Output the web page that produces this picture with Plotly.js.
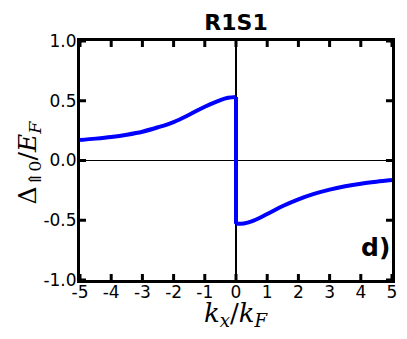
<!DOCTYPE html>
<html>
<head>
<meta charset="utf-8">
<script src="https://cdn.plot.ly/plotly-3.0.1.min.js"></script>
<style>
  html, body { margin: 0; padding: 0; background: #fff; }
  #chart { width: 407px; height: 339px; }
</style>
</head>
<body>
<div id="chart"></div>
<script>
// values
const kxLeft = [-5, -4.5, -4, -3.5, -3, -2.5, -2, -1.5, -1, -0.5, -0.25, 0];
const deltaLeft = [0.172, 0.183, 0.197, 0.216, 0.241, 0.278, 0.322, 0.383, 0.45, 0.506, 0.525, 0.532];
const kxRight = [0, 0.25, 0.5, 1, 1.5, 2, 2.5, 3, 3.5, 4, 4.5, 5];
const deltaRight = [-0.53, -0.527, -0.51, -0.448, -0.381, -0.325, -0.28, -0.244, -0.216, -0.194, -0.177, -0.163];
const kxJump = [0, 0];
const deltaJump = [0.532, -0.53];
const xTicks = [-5, -4, -3, -2, -1, 0, 1, 2, 3, 4, 5];
const yTicks = [-1, -0.5, 0, 0.5, 1];
const yTickText = ["-1.0", "-0.5", "0.0", "0.5", "1.0"];

const lineStyle = { color: "#0000ff", width: 4, shape: "spline", smoothing: 1 };

const traces = [
  { x: kxLeft, y: deltaLeft, type: "scatter", mode: "lines", line: lineStyle, hoverinfo: "skip" },
  { x: kxJump, y: deltaJump, type: "scatter", mode: "lines", line: { color: "#0000ff", width: 4 }, hoverinfo: "skip" },
  { x: kxRight, y: deltaRight, type: "scatter", mode: "lines", line: lineStyle, hoverinfo: "skip" },
];

// inside tick marks on all four sides (matplotlib style), drawn as pixel-sized shapes
const tickLine = { color: "#000", width: 3 };
const tickShapes = [];
xTicks.forEach((v) => {
  tickShapes.push({ type: "line", xref: "x", yref: "paper", ysizemode: "pixel", yanchor: 0,
    x0: v, x1: v, y0: 0, y1: 6, line: tickLine });
  tickShapes.push({ type: "line", xref: "x", yref: "paper", ysizemode: "pixel", yanchor: 1,
    x0: v, x1: v, y0: 0, y1: -6, line: tickLine });
});
yTicks.forEach((v) => {
  tickShapes.push({ type: "line", yref: "y", xref: "paper", xsizemode: "pixel", xanchor: 0,
    y0: v, y1: v, x0: 0, x1: 6, line: tickLine });
  tickShapes.push({ type: "line", yref: "y", xref: "paper", xsizemode: "pixel", xanchor: 1,
    y0: v, y1: v, x0: 0, x1: -6, line: tickLine });
});

const axisCommon = {
  showgrid: false,
  showline: true,
  linecolor: "#000",
  linewidth: 3,
  mirror: true,
  ticks: "",
  zeroline: true,
  zerolinecolor: "#000",
  tickfont: { family: "DejaVu Sans, sans-serif", size: 17, color: "#000" },
};

const layout = {
  width: 407,
  height: 339,
  margin: { l: 80, r: 15, t: 41, b: 59 },
  paper_bgcolor: "#fff",
  plot_bgcolor: "#fff",
  showlegend: false,
  title: {
    text: "<b>R1S1</b>",
    font: { family: "DejaVu Sans, sans-serif", size: 22, color: "#000" },
    x: 0.5,
    xref: "paper",
    xanchor: "center",
    y: 0.935,
    yref: "container",
    yanchor: "middle",
  },
  xaxis: Object.assign({}, axisCommon, {
    range: [-5, 5],
    tickvals: xTicks,
    ticktext: xTicks.map(String),
    zerolinewidth: 2,
    ticklabelstandoff: -5,
  }),
  yaxis: Object.assign({}, axisCommon, {
    range: [-1, 1],
    tickvals: yTicks,
    ticktext: yTickText,
    zerolinewidth: 1.5,
    ticklabelstandoff: -3,
  }),
  shapes: tickShapes,
  annotations: [
    {
      text: "<i>k<sub>x</sub></i>/<i>k<sub>F</sub></i>",
      x: 0.5,
      y: -0.145,
      xref: "paper",
      yref: "paper",
      xanchor: "center",
      yanchor: "middle",
      showarrow: false,
      font: { family: "DejaVu Serif, serif", size: 26, color: "#000" },
    },
    {
      text: "Δ<sub>⇑0</sub>/<i>E<sub>F</sub></i>",
      x: -0.165,
      y: 0.49,
      xref: "paper",
      yref: "paper",
      xanchor: "center",
      yanchor: "middle",
      textangle: -90,
      showarrow: false,
      font: { family: "DejaVu Serif, serif", size: 25, color: "#000" },
    },
    {
      text: "<b>d)</b>",
      x: 1.0,
      y: 0.134,
      xref: "paper",
      yref: "paper",
      xanchor: "right",
      yanchor: "middle",
      showarrow: false,
      font: { family: "DejaVu Sans, sans-serif", size: 25, color: "#000" },
    },
  ],
};

Plotly.newPlot("chart", traces, layout, { staticPlot: true, displayModeBar: false });
</script>
</body>
</html>
